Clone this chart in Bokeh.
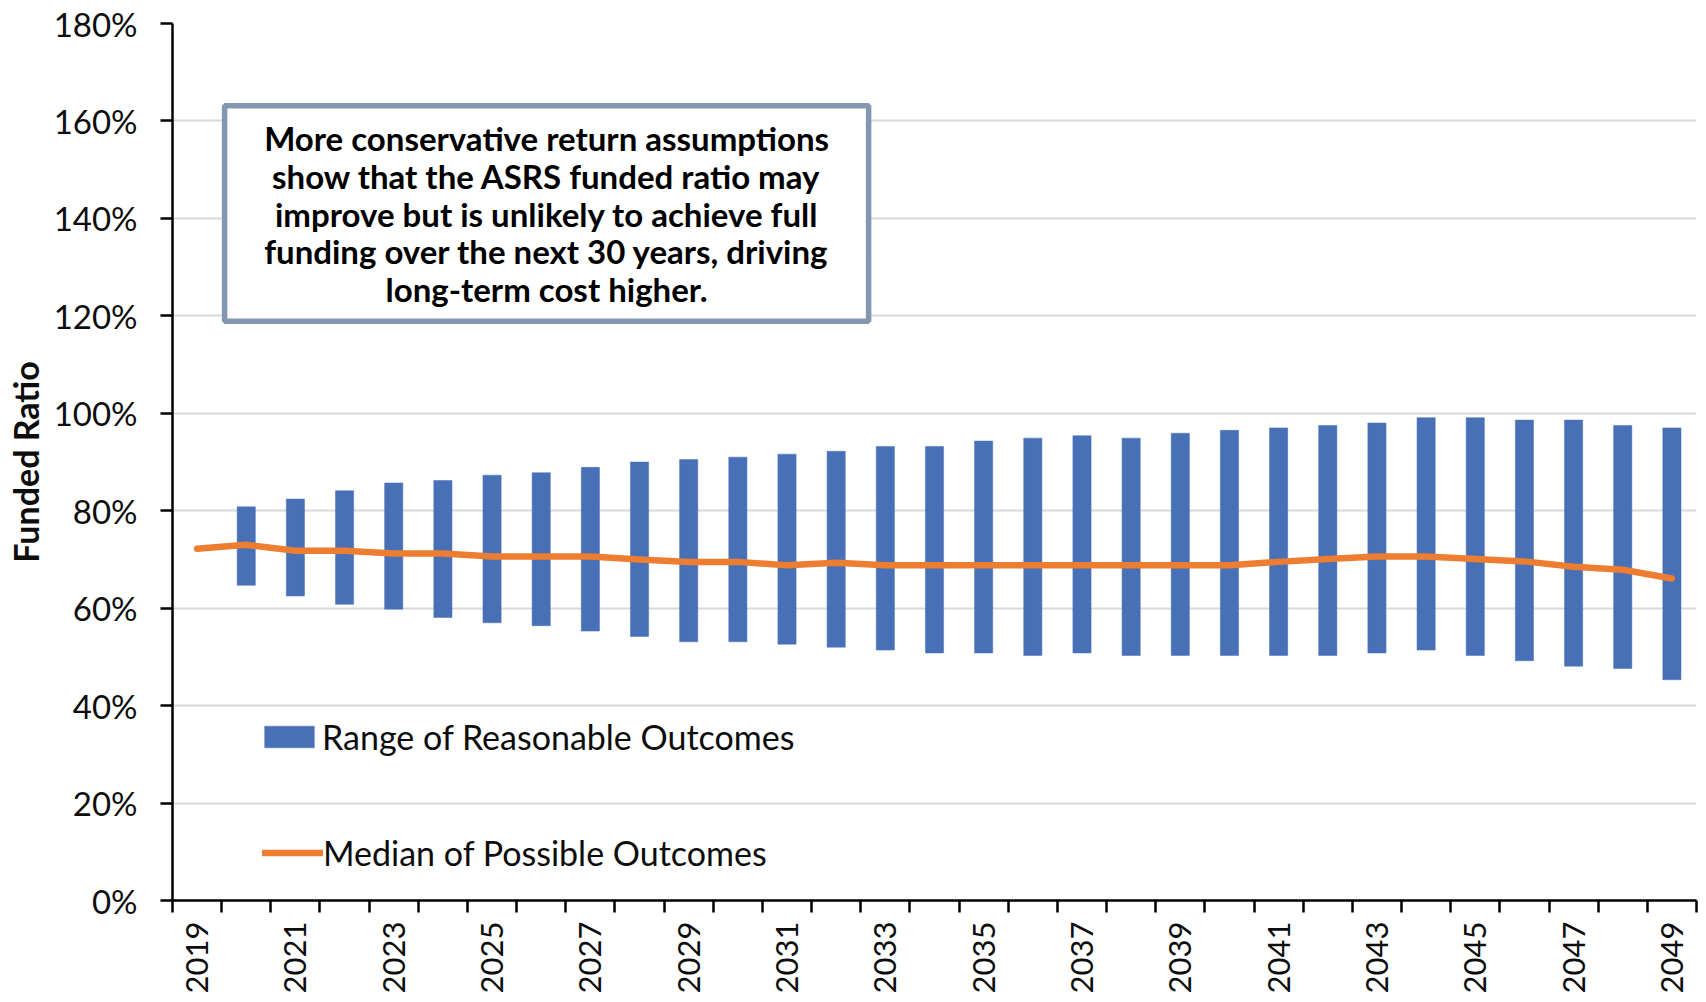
import math
from bokeh.plotting import figure
from bokeh.models import (FixedTicker, PrintfTickFormatter, Legend, LegendItem,
                          BoxAnnotation, Label)
from bokeh.embed import file_html
from bokeh.resources import INLINE

# ---------------- data ----------------
years = list(range(2019, 2050))
median = [72.2, 73.0, 71.8, 71.8, 71.2, 71.2, 70.6, 70.6, 70.6, 70.0, 69.5,
          69.5, 68.8, 69.3, 68.8, 68.8, 68.8, 68.8, 68.8, 68.8, 68.8, 68.8,
          69.5, 70.1, 70.6, 70.6, 70.1, 69.6, 68.5, 67.9, 66.1]
bar_years = list(range(2020, 2050))
range_high = [80.8, 82.4, 84.1, 85.7, 86.2, 87.3, 87.8, 88.9, 90.0, 90.5,
              91.0, 91.6, 92.2, 93.2, 93.2, 94.3, 94.9, 95.4, 94.9, 95.9,
              96.5, 97.0, 97.5, 98.0, 99.1, 99.1, 98.6, 98.6, 97.5, 97.0]
range_low = [64.7, 62.5, 60.8, 59.8, 58.1, 57.0, 56.4, 55.3, 54.2, 53.1,
             53.1, 52.6, 52.0, 51.4, 50.8, 50.8, 50.3, 50.8, 50.3, 50.3,
             50.3, 50.3, 50.3, 50.8, 51.4, 50.3, 49.2, 48.1, 47.6, 45.3]
y_ticks = [0, 20, 40, 60, 80, 100, 120, 140, 160, 180]
labelled_years = years[::2]
note_lines = ["More conservative return assumptions",
              "show that the ASRS funded ratio may",
              "improve but is unlikely to achieve full",
              "funding over the next 30 years, driving",
              "long-term cost higher."]
y_title = "Funded Ratio"
legend_labels = ["Range of Reasonable Outcomes", "Median of Possible Outcomes"]

FONT = "Lato"
BLUE = "#4870B7"
ORANGE = "#ED7D31"
TXT = "#0D0D0D"

p = figure(width=1698, height=1000, output_backend="svg", toolbar_location=None,
           x_range=(years[0] - 0.5, years[-1] + 0.5), y_range=(0, 180),
           min_border_left=172, min_border_right=2, min_border_top=23,
           min_border_bottom=100)
p.outline_line_color = None
p.background_fill_color = "white"
p.border_fill_color = "white"

bars = p.vbar(x=bar_years, top=range_high, bottom=range_low, width=0.37,
              fill_color=BLUE, line_color=BLUE, line_width=0.5)
line = p.line(x=years, y=median, line_color=ORANGE, line_width=6.5,
              line_cap="round", line_join="round")

# y axis
p.yaxis.ticker = FixedTicker(ticks=y_ticks)
p.yaxis.formatter = PrintfTickFormatter(format="%d%%")
p.yaxis.major_label_text_font = FONT
p.yaxis.major_label_text_font_size = "33px"
p.yaxis.major_label_text_color = TXT
p.yaxis.major_tick_out = 12
p.yaxis.major_tick_in = 0
p.yaxis.minor_tick_out = 0
p.yaxis.minor_tick_in = 0
p.yaxis.major_label_standoff = 23
p.yaxis.axis_line_width = 2.5
p.yaxis.axis_line_color = "black"
p.yaxis.major_tick_line_width = 2.5
p.yaxis.axis_label = y_title
p.yaxis.axis_label_text_font = FONT
p.yaxis.axis_label_text_font_style = "bold"
p.yaxis.axis_label_text_font_size = "34px"
p.yaxis.axis_label_text_color = TXT
p.yaxis.axis_label_standoff = 5

# x axis: labels at odd years, boundary ticks between every year
p.xaxis.ticker = FixedTicker(ticks=labelled_years,
                             minor_ticks=[y - 0.5 for y in years] + [years[-1] + 0.5])
p.xaxis.formatter = PrintfTickFormatter(format="%d")
p.xaxis.major_label_orientation = math.pi / 2
p.xaxis.major_label_text_font = FONT
p.xaxis.major_label_text_font_size = "31px"
p.xaxis.major_label_text_color = TXT
p.xaxis.major_tick_out = 0
p.xaxis.major_tick_in = 0
p.xaxis.minor_tick_out = 12
p.xaxis.minor_tick_in = 0
p.xaxis.minor_tick_line_color = "black"
p.xaxis.minor_tick_line_width = 2.5
p.xaxis.major_label_standoff = 9
p.xaxis.axis_line_width = 2.5
p.xaxis.axis_line_color = "black"

p.xgrid.grid_line_color = None
p.ygrid.ticker = FixedTicker(ticks=y_ticks)
p.ygrid.grid_line_color = "#D9D9D9"
p.ygrid.grid_line_width = 2

# legends inside plot (one per item so each glyph can have its own size)
common = dict(orientation="vertical", padding=0, margin=0,
              border_line_alpha=0, background_fill_alpha=0,
              label_text_font=FONT, label_text_font_size="34px",
              label_text_color=TXT)
legend1 = Legend(items=[LegendItem(label=legend_labels[0], renderers=[bars])],
                 location=(86, 143), glyph_width=62, glyph_height=27,
                 label_standoff=2, **common)
legend2 = Legend(items=[LegendItem(label=legend_labels[1], renderers=[line])],
                 location=(90, 27), glyph_width=61, glyph_height=21,
                 label_standoff=0, **common)
p.add_layout(legend1, "center")
p.add_layout(legend2, "center")

# note box
box = BoxAnnotation(left=2019.56, right=2032.66, top=163.1, bottom=118.9,
                    fill_color="white", fill_alpha=1.0,
                    line_color="#8497B0", line_alpha=1.0, line_width=5.5)
p.add_layout(box)
line_y = [156.5, 148.7, 141.0, 133.3, 125.5]
for txt, yy in zip(note_lines, line_y):
    p.add_layout(Label(x=2026.11, y=yy, text=txt, text_align="center",
                       text_baseline="middle", text_font=FONT,
                       text_font_style="bold", text_font_size="33px",
                       text_color="black"))

open("out.html", "w").write(file_html(p, INLINE))
